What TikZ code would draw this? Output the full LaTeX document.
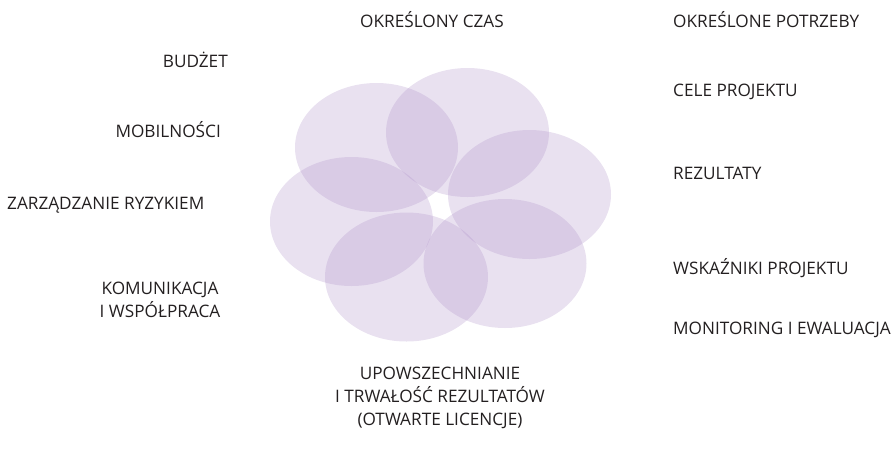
\documentclass[tikz,border=0pt]{standalone}
\usepackage{fontspec}
\setmainfont{Open Sans}
\definecolor{petal}{RGB}{174,144,200}
\definecolor{ink}{RGB}{35,31,32}
\tikzset{
    petal/.style = {fill=petal, fill opacity=0.27},
    lbl/.style = {font=\fontsize{17.2}{23}\selectfont, text=ink, inner sep=0pt, align=center}
}
\begin{document}
\begin{tikzpicture}[x=1pt,y=-1pt,line cap=round,line join=round]
\useasboundingbox (0,0) rectangle (895,448);
% petals
\fill[petal] (376.5,147.5) ellipse (81.5pt and 64.5pt);
\fill[petal] (467.5,132.5) ellipse (81.5pt and 64.5pt);
\fill[petal] (529.5,194.5) ellipse (81.5pt and 64.5pt);
\fill[petal] (505,263.5) ellipse (81.5pt and 64.5pt);
\fill[petal] (406.5,277) ellipse (81.5pt and 64.5pt);
\fill[petal] (351.5,221.5) ellipse (81.5pt and 64.5pt);

% labels
\node[lbl] (czas) at (432,20) {OKREŚLONY CZAS};
\node[lbl, anchor=east] (budzet) at (228,60) {BUDŻET};
\node[lbl, anchor=east] (mobil) at (221,130) {MOBILNOŚCI};
\node[lbl, anchor=west] (ryzyko) at (7,205) {ZARZĄDZANIE RYZYKIEM};
\node[lbl] (komun) at (160,300) {KOMUNIKACJA\\I WSPÓŁPRACA};
\node[lbl] (upow) at (440,398) {UPOWSZECHNIANIE\\I TRWAŁOŚĆ REZULTATÓW\\(OTWARTE LICENCJE)};
\node[lbl, anchor=west] (potrzeby) at (673,20) {OKREŚLONE POTRZEBY};
\node[lbl, anchor=west] (cele) at (673,92) {CELE PROJEKTU};
\node[lbl, anchor=west] (rezultaty) at (673,173) {REZULTATY};
\node[lbl, anchor=west] (wskazniki) at (673,268) {WSKAŹNIKI PROJEKTU};
\node[lbl, anchor=west] (monitor) at (673,330) {MONITORING I EWALUACJA};
\end{tikzpicture}
\end{document}
